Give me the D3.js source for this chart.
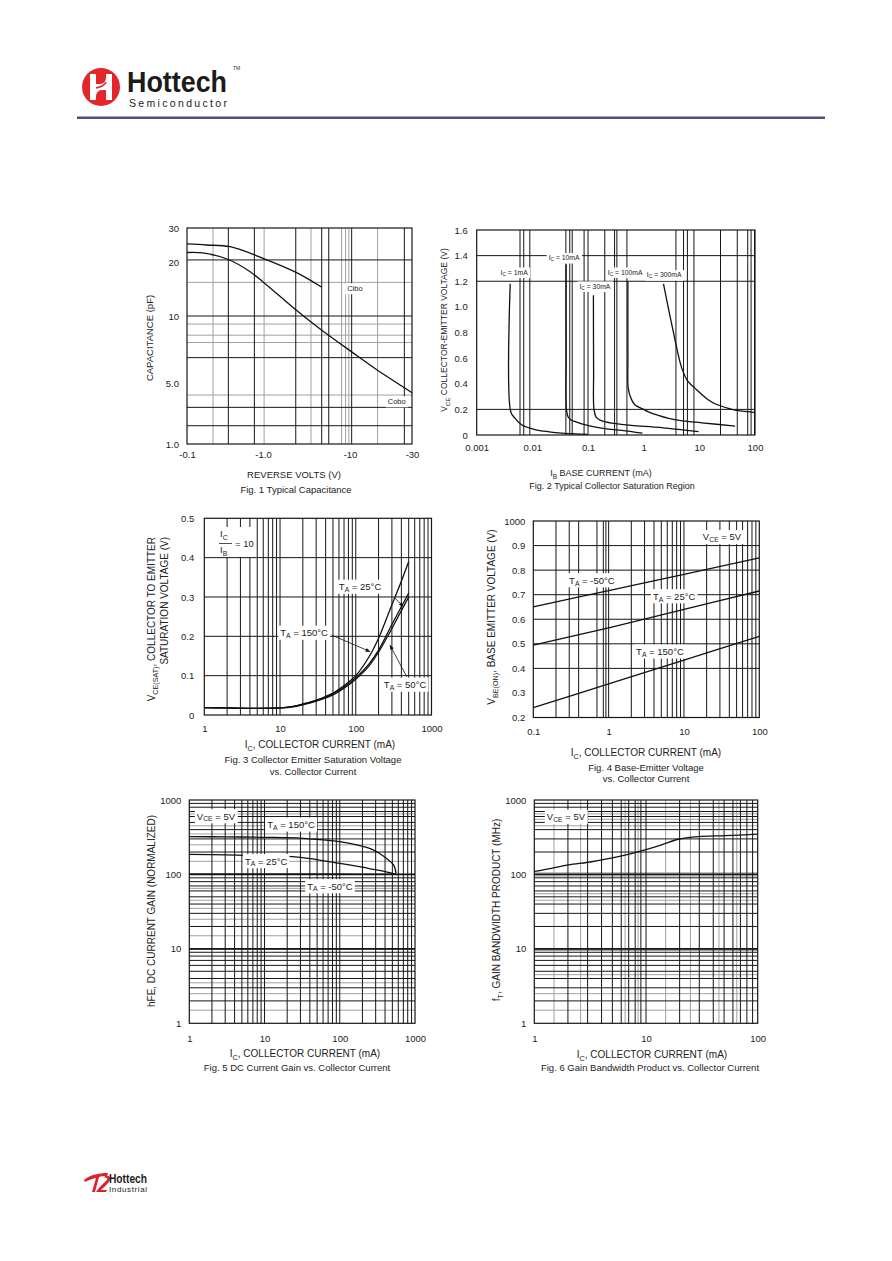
<!DOCTYPE html>
<html>
<head>
<meta charset="utf-8">
<script src="https://cdn.jsdelivr.net/npm/d3@7"></script>
<style>
  body { margin: 0; background: #fff; }
  svg text { font-family: "Liberation Sans", Arial, sans-serif; fill: #222; }
</style>
</head>
<body>
<script>
// ---------- data ----------

// Fig 1 typical capacitance
var f1VoltTicks = [0.1, 1, 10, 30];
var f1VoltLabels = ["-0.1", "-1.0", "-10", "-30"];
var f1CapTicks = [1, 5, 10, 20, 30];
var f1CapLabels = ["1.0", "5.0", "10", "20", "30"];
var ciboV = [0.1, 0.18, 0.37, 1.0, 2.4, 4.7];
var ciboC = [24.8, 24.5, 24.0, 20.9, 17.5, 14.5];
var coboV = [0.1, 0.16, 0.35, 0.67, 1.05, 2.4, 4.7, 10.3, 16.3, 30];
var coboC = [22.4, 22.3, 20.6, 17.7, 15.2, 10.8, 8.65, 6.9, 5.7, 3.87];

// Fig 2 collector saturation region (IB mA, VCE V)
var f2IbTicks = [0.001, 0.01, 0.1, 1, 10, 100];
var f2IbLabels = ["0.001", "0.01", "0.1", "1", "10", "100"];
var f2VceTicks = [0, 0.2, 0.4, 0.6, 0.8, 1.0, 1.2, 1.4, 1.6];
var f2VceLabels = ["0", "0.2", "0.4", "0.6", "0.8", "1.0", "1.2", "1.4", "1.6"];
var ic1Ib  = [0.004, 0.0041, 0.0049, 0.0065, 0.0112, 0.02, 0.034, 0.06, 0.098];
var ic1Vce = [1.18, 0.18, 0.13, 0.078, 0.042, 0.025, 0.015, 0.009, 0.005];
var ic10Ib  = [0.0404, 0.0405, 0.041, 0.044, 0.05, 0.059, 0.08, 0.117, 0.2, 0.405, 0.95];
var ic10Vce = [1.33, 0.6, 0.2, 0.14, 0.115, 0.104, 0.085, 0.068, 0.05, 0.036, 0.014];
var ic30Ib  = [0.125, 0.126, 0.128, 0.14, 0.177, 0.3, 0.6, 1.5, 2.8, 5, 9.7];
var ic30Vce = [1.09, 0.5, 0.2, 0.14, 0.11, 0.09, 0.075, 0.062, 0.052, 0.04, 0.026];
var ic100Ib  = [0.52, 0.521, 0.53, 0.6, 0.7, 1.0, 1.22, 2.8, 5, 11.1, 44];
var ic100Vce = [1.2, 0.6, 0.36, 0.28, 0.234, 0.2, 0.18, 0.13, 0.11, 0.095, 0.07];
var ic300Ib  = [2.27, 3.21, 4.86, 6.2, 8.4, 14.6, 20, 33.5, 50, 76.7, 100];
var ic300Vce = [1.18, 0.86, 0.52, 0.42, 0.364, 0.273, 0.24, 0.208, 0.19, 0.182, 0.174];

// Fig 3 VCE(sat) vs IC
var f3IcTicks = [1, 10, 100, 1000];
var f3IcLabels = ["1", "10", "100", "1000"];
var f3VTicks = [0, 0.1, 0.2, 0.3, 0.4, 0.5];
var f3VLabels = ["0", "0.1", "0.2", "0.3", "0.4", "0.5"];
var f3Ic = [1, 2, 5, 10, 15, 20, 30, 50, 70, 100, 150, 200, 300, 400, 500];
var f3VceA = [0.019, 0.018, 0.017, 0.018, 0.022, 0.028, 0.038, 0.056, 0.075, 0.1, 0.148, 0.195, 0.28, 0.34, 0.39];
var f3VceB = [0.019, 0.018, 0.017, 0.018, 0.022, 0.027, 0.036, 0.053, 0.071, 0.095, 0.13, 0.165, 0.23, 0.275, 0.31];
var f3VceC = [0.019, 0.018, 0.017, 0.018, 0.021, 0.026, 0.035, 0.051, 0.068, 0.091, 0.125, 0.16, 0.22, 0.265, 0.30];

// Fig 4 VBE(on) vs IC
var f4IcTicks = [0.1, 1, 10, 100];
var f4IcLabels = ["0.1", "1", "10", "100"];
var f4VTicks = [0.2, 0.3, 0.4, 0.5, 0.6, 0.7, 0.8, 0.9, 1.0];
var f4VLabels = ["0.2", "0.3", "0.4", "0.5", "0.6", "0.7", "0.8", "0.9", "1000"];
var f4Ic = [0.1, 1, 10, 100];
var vbeM50 = [0.65, 0.717, 0.783, 0.85];
var vbe25 = [0.495, 0.565, 0.64, 0.715];
var vbe150 = [0.24, 0.337, 0.434, 0.53];

// Fig 5 DC current gain
var f5IcTicks = [1, 10, 100, 1000];
var f5IcLabels = ["1", "10", "100", "1000"];
var f5HTicks = [1, 10, 100, 1000];
var f5HLabels = ["1", "10", "100", "1000"];
var hfe150Ic = [1, 3, 10, 20, 33, 60, 100, 180, 278, 400, 519, 560];
var hfe150 = [322, 320, 315, 312, 306, 292, 276, 245, 214, 170, 134, 104];
var hfe25Ic = [1, 3, 10, 30, 100, 200, 278, 400, 560];
var hfe25 = [186, 183, 179, 170, 141, 125, 117, 109, 101];
var hfeM50Ic = [1, 10, 100, 560];
var hfeM50 = [101, 101, 100.5, 100];

// Fig 6 gain bandwidth product
var f6IcTicks = [1, 10, 100];
var f6IcLabels = ["1", "10", "100"];
var f6FTicks = [1, 10, 100, 1000];
var f6FLabels = ["1", "10", "100", "1000"];
var ftIc = [1, 1.43, 2.02, 3.26, 5.65, 9.8, 13.8, 19.4, 29.4, 51, 100];
var ftMHz = [110, 121, 134, 148, 173, 214, 250, 297, 322, 332, 347];

// ---------- page ----------
var svg = d3.select("body").append("svg")
  .attr("width", 892)
  .attr("height", 1261);

var BLACK = "#161616", GRAY = "#a0a0a0";

// text with "_x" parts as subscripts
function rich(t, parts, size) {
  var shift = 0;
  parts.forEach(function(p) {
    var sub = p.charAt(0) === "_";
    var s = t.append("tspan").text(sub ? p.slice(1) : p);
    if (sub) {
      s.attr("font-size", size * 0.72).attr("dy", size * 0.3);
      shift = size * 0.3;
    } else if (shift) {
      s.attr("dy", -shift);
      shift = 0;
    }
  });
  return t;
}

function boxLabel(g, px, py, parts, size) {
  var t = g.append("text").attr("x", px).attr("y", py)
    .attr("font-size", size).attr("text-anchor", "middle").attr("dominant-baseline", "middle");
  rich(t, parts, size);
  var b = t.node().getBBox();
  g.insert("rect", function() { return t.node(); })
    .attr("x", b.x - 2).attr("y", b.y - 1).attr("width", b.width + 4).attr("height", b.height + 2)
    .attr("fill", "#fff");
  return t;
}

function panel(o) {
  var g = svg.append("g");
  var x = o.x, y = o.y;
  var xr = x.range(), yr = y.range();
  var left = xr[0], right = xr[xr.length - 1], bottom = yr[0], top = yr[yr.length - 1];

  function vl(vals, color, w) {
    g.selectAll(null).data(vals).enter().append("line")
      .attr("x1", d => x(d)).attr("x2", d => x(d))
      .attr("y1", top).attr("y2", bottom)
      .attr("stroke", color).attr("stroke-width", w || 1);
  }
  function hl(vals, color, w) {
    g.selectAll(null).data(vals).enter().append("line")
      .attr("y1", d => y(d)).attr("y2", d => y(d))
      .attr("x1", left).attr("x2", right)
      .attr("stroke", color).attr("stroke-width", w || 1);
  }
  vl(o.gxGray || [], GRAY);
  hl(o.gyGray || [], GRAY);
  vl(o.gx || [], BLACK);
  hl(o.gy || [], BLACK);
  vl(o.gxBold || [], BLACK, 1.8);
  hl(o.gyBold || [], BLACK, 1.8);

  g.append("rect").attr("x", left).attr("y", top)
    .attr("width", right - left).attr("height", bottom - top)
    .attr("fill", "none").attr("stroke", BLACK).attr("stroke-width", 1.2);

  // curves
  var line = d3.line().x(d => x(d[0])).y(d => y(d[1])).curve(d3.curveCatmullRom.alpha(0.5));
  o.series.forEach(function(s) {
    g.append("path").attr("d", line(d3.zip(s[0], s[1])))
      .attr("fill", "none").attr("stroke", "#111").attr("stroke-width", 1.3);
  });

  // tick labels through axes
  var ax = g.append("g").attr("transform", "translate(0," + bottom + ")")
    .call(d3.axisBottom(x).tickValues(o.xTicks).tickFormat((d, i) => o.xLabels[i])
      .tickSize(0).tickPadding(o.xPad || 8));
  var ay = g.append("g").attr("transform", "translate(" + left + ",0)")
    .call(d3.axisLeft(y).tickValues(o.yTicks).tickFormat((d, i) => o.yLabels[i])
      .tickSize(0).tickPadding(o.yPad || 7));
  [ax, ay].forEach(function(a) {
    a.select(".domain").remove();
    a.selectAll("text").attr("font-size", 9.5).attr("font-family", null).attr("fill", "#2a2a2a");
  });
  return g;
}

// ---------- header ----------
var head = svg.append("g");
head.append("circle").attr("cx", 101).attr("cy", 87).attr("r", 19).attr("fill", "#e2262c");
head.append("path")
  .attr("d", "M90,74 h6 v10 h4 c4,0 6,-3 6,-7 v-3 h6 v26 h-6 v-10 h-4 c-4,0 -6,3 -6,7 v3 h-6 z")
  .attr("fill", "#fff");
head.append("path")
  .attr("d", "M96,88 c5,-1 9,-3 10,-6")
  .attr("stroke", "#e2262c").attr("stroke-width", 1.6).attr("fill", "none");
head.append("text").attr("x", 127).attr("y", 91.5)
  .attr("font-size", 29).attr("font-weight", "bold").attr("textLength", 100)
  .attr("lengthAdjust", "spacingAndGlyphs").style("fill", "#1b1b1b").text("Hottech");
head.append("text").attr("x", 233).attr("y", 70)
  .attr("font-size", 5).style("fill", "#333").text("TM");
head.append("text").attr("x", 129).attr("y", 107)
  .attr("font-size", 10.5).attr("textLength", 98)
  .attr("lengthAdjust", "spacing").style("fill", "#222").text("Semiconductor");
head.append("rect").attr("x", 77).attr("y", 116.5).attr("width", 748).attr("height", 2.5)
  .attr("fill", "#5b4b7d");

// ---------- Fig 1 ----------
var x1 = d3.scaleLog().domain([0.1, 1, 10, 30]).range([187, 263, 350, 412]);
var y1 = d3.scaleLog().domain([1, 5, 10, 20, 30]).range([444, 383, 316, 262, 228]);
var g1 = panel({
  x: x1, y: y1,
  gx: [0.35, 0.77, 2.38, 4.73, 5.7, 10.3, 26.2],
  gxGray: [0.22, 1.03, 3.56, 8.0, 8.9, 9.7, 16.3],
  gy: [20.5, 10, 6.5, 2.63, 1.62],
  gyGray: [15.4, 9.2, 8.2, 7.6, 3.64],
  series: [[ciboV, ciboC], [coboV, coboC]],
  xTicks: f1VoltTicks, xLabels: f1VoltLabels,
  yTicks: f1CapTicks, yLabels: f1CapLabels, xPad: 7, yPad: 8
});
boxLabel(g1, x1(10.9), y1(14.1), ["Cibo"], 7.5);
boxLabel(g1, x1(22.9), y1(3.0), ["Cobo"], 7.5);
g1.append("text").attr("transform", "translate(153,338) rotate(-90)")
  .attr("text-anchor", "middle").attr("font-size", 9.5).text("CAPACITANCE (pF)");
g1.append("text").attr("x", 294).attr("y", 478).attr("text-anchor", "middle")
  .attr("font-size", 9.5).text("REVERSE VOLTS (V)");
g1.append("text").attr("x", 296).attr("y", 493).attr("text-anchor", "middle")
  .attr("font-size", 9.5).text("Fig. 1  Typical Capacitance");

// ---------- Fig 2 ----------
var x2 = d3.scaleLog().domain([0.001, 100]).range([476.7, 755]);
var y2 = d3.scaleLinear().domain([0, 1.6]).range([435, 230]);
var g2 = panel({
  x: x2, y: y2,
  gx: [0.006, 0.007, 0.009, 0.04, 0.047, 0.052, 0.085, 0.1, 0.2, 0.3, 0.33, 0.5,
       3.8, 5.2, 6.1, 8, 24, 48, 74, 85, 98],
  gy: [0.2, 1.2, 1.4],
  series: [[ic1Ib, ic1Vce], [ic10Ib, ic10Vce], [ic30Ib, ic30Vce], [ic100Ib, ic100Vce], [ic300Ib, ic300Vce]],
  xTicks: f2IbTicks, xLabels: f2IbLabels,
  yTicks: f2VceTicks, yLabels: f2VceLabels, xPad: 9, yPad: 9
});
boxLabel(g2, x2(0.0047), y2(1.267), ["I", "_C", " = 1mA"], 6.8);
boxLabel(g2, x2(0.0372), y2(1.38), ["I", "_C", " = 10mA"], 6.8);
boxLabel(g2, x2(0.133), y2(1.158), ["I", "_C", " = 30mA"], 6.8);
boxLabel(g2, x2(0.465), y2(1.267), ["I", "_C", " = 100mA"], 6.8);
boxLabel(g2, x2(2.34), y2(1.246), ["I", "_C", " = 300mA"], 6.8);
rich(g2.append("text").attr("transform", "translate(447,330) rotate(-90)")
  .attr("text-anchor", "middle").attr("font-size", 8.5),
  ["V", "_CE", " COLLECTOR-EMITTER VOLTAGE (V)"], 8.5);
rich(g2.append("text").attr("x", 601).attr("y", 476).attr("text-anchor", "middle")
  .attr("font-size", 9), ["I", "_B", " BASE CURRENT (mA)"], 9);
g2.append("text").attr("x", 612).attr("y", 489).attr("text-anchor", "middle")
  .attr("font-size", 9).text("Fig. 2 Typical Collector Saturation Region");

// ---------- Fig 3 ----------
var x3 = d3.scaleLog().domain([1, 1000]).range([204.3, 431.5]);
var y3 = d3.scaleLinear().domain([0, 0.5]).range([715, 518.3]);
var g3 = panel({
  x: x3, y: y3,
  gx: x3.ticks().filter(d => d > 1 && d < 1000),
  gy: [0.1, 0.2, 0.3, 0.4],
  series: [[f3Ic, f3VceA], [f3Ic, f3VceB], [f3Ic, f3VceC]],
  xTicks: f3IcTicks, xLabels: f3IcLabels,
  yTicks: f3VTicks, yLabels: f3VLabels, xPad: 10, yPad: 10
});
boxLabel(g3, x3(114), y3(0.325), ["T", "_A", " = 25°C"], 9.5);
boxLabel(g3, x3(20.8), y3(0.208), ["T", "_A", " = 150°C"], 9.5);
boxLabel(g3, x3(448), y3(0.076), ["T", "_A", " = 50°C"], 9.5);
var arrows3 = [[330, 0.297, 426, 0.275], [48.3, 0.203, 155, 0.161], [472, 0.097, 282, 0.178]];
arrows3.forEach(function(a) {
  var x0 = x3(a[0]), y0 = y3(a[1]), xe = x3(a[2]), ye = y3(a[3]);
  var ang = Math.atan2(ye - y0, xe - x0);
  g3.append("line").attr("x1", x0).attr("y1", y0).attr("x2", xe).attr("y2", ye)
    .attr("stroke", "#111").attr("stroke-width", 0.8);
  var L = 5, s = 0.4;
  g3.append("path")
    .attr("d", "M" + xe + "," + ye +
      "L" + (xe - L * Math.cos(ang - s)) + "," + (ye - L * Math.sin(ang - s)) +
      "L" + (xe - L * Math.cos(ang + s)) + "," + (ye - L * Math.sin(ang + s)) + "Z")
    .attr("fill", "#111");
});
// IC / IB = 10
var fr = g3.append("g");
fr.append("rect").attr("x", 216).attr("y", 527).attr("width", 36).attr("height", 30).attr("fill", "#fff");
rich(fr.append("text").attr("x", 220).attr("y", 537).attr("font-size", 9.5), ["I", "_C"], 9.5);
rich(fr.append("text").attr("x", 220).attr("y", 553).attr("font-size", 9.5), ["I", "_B"], 9.5);
fr.append("line").attr("x1", 219).attr("x2", 232).attr("y1", 543.5).attr("y2", 543.5)
  .attr("stroke", "#222").attr("stroke-width", 0.8);
fr.append("text").attr("x", 235).attr("y", 547).attr("font-size", 9.5).text("= 10");
rich(g3.append("text").attr("transform", "translate(155,537) rotate(-90)")
  .attr("text-anchor", "end").attr("font-size", 10),
  ["V", "_CE(SAT)", ", COLLECTOR TO EMITTER"], 10);
g3.append("text").attr("transform", "translate(168,537) rotate(-90)")
  .attr("text-anchor", "end").attr("font-size", 10).text("SATURATION VOLTAGE (V)");
rich(g3.append("text").attr("x", 320).attr("y", 748).attr("text-anchor", "middle")
  .attr("font-size", 10), ["I", "_C", ", COLLECTOR CURRENT (mA)"], 10);
g3.append("text").attr("x", 313).attr("y", 763).attr("text-anchor", "middle")
  .attr("font-size", 9.5).text("Fig. 3  Collector Emitter Saturation Voltage");
g3.append("text").attr("x", 313).attr("y", 775).attr("text-anchor", "middle")
  .attr("font-size", 9.5).text("vs. Collector Current");

// ---------- Fig 4 ----------
var x4 = d3.scaleLog().domain([0.1, 100]).range([533.3, 759.3]);
var y4 = d3.scaleLinear().domain([0.2, 1.0]).range([717.5, 521]);
var g4 = panel({
  x: x4, y: y4,
  gx: [0.2, 0.3, 0.4, 0.7, 0.85, 0.92, 1].concat(x4.ticks().filter(d => d > 1 && d < 100)),
  gy: [0.4, 0.5, 0.6, 0.7, 0.8, 0.9],
  series: [[f4Ic, vbeM50], [f4Ic, vbe25], [f4Ic, vbe150]],
  xTicks: f4IcTicks, xLabels: f4IcLabels,
  yTicks: f4VTicks, yLabels: f4VLabels, xPad: 11, yPad: 8
});
boxLabel(g4, x4(32), y4(0.933), ["V", "_CE", " = 5V"], 9.5);
boxLabel(g4, x4(0.6), y4(0.757), ["T", "_A", " = -50°C"], 9.5);
boxLabel(g4, x4(7.4), y4(0.692), ["T", "_A", " = 25°C"], 9.5);
boxLabel(g4, x4(4.8), y4(0.467), ["T", "_A", " = 150°C"], 9.5);
rich(g4.append("text").attr("transform", "translate(495,617) rotate(-90)")
  .attr("text-anchor", "middle").attr("font-size", 10),
  ["V", "_BE(ON)", ", BASE EMITTER VOLTAGE (V)"], 10);
rich(g4.append("text").attr("x", 646).attr("y", 756).attr("text-anchor", "middle")
  .attr("font-size", 10), ["I", "_C", ", COLLECTOR CURRENT (mA)"], 10);
g4.append("text").attr("x", 646).attr("y", 771).attr("text-anchor", "middle")
  .attr("font-size", 9.5).text("Fig. 4  Base-Emitter Voltage");
g4.append("text").attr("x", 646).attr("y", 782).attr("text-anchor", "middle")
  .attr("font-size", 9.5).text("vs. Collector Current");

// ---------- Fig 5 ----------
var x5 = d3.scaleLog().domain([1, 1000]).range([189.3, 415]);
var y5 = d3.scaleLog().domain([1, 1000]).range([1023.3, 800]);
var g5 = panel({
  x: x5, y: y5,
  gx: x5.ticks().filter(d => d > 1 && d < 1000),
  gy: y5.ticks().filter(d => d > 1 && d < 1000),
  gyGray: [1.5, 2.5, 3.5, 15, 25, 35, 45, 65, 150, 250, 350, 450, 650],
  gyBold: [10, 100],
  series: [[hfe150Ic, hfe150], [hfe25Ic, hfe25], [hfeM50Ic, hfeM50]],
  xTicks: f5IcTicks, xLabels: f5IcLabels,
  yTicks: f5HTicks, yLabels: f5HLabels, xPad: 12, yPad: 8
});
boxLabel(g5, x5(2.26), y5(598), ["V", "_CE", " = 5V"], 9.5);
boxLabel(g5, x5(22.5), y5(462), ["T", "_A", " = 150°C"], 9.5);
boxLabel(g5, x5(10.5), y5(149), ["T", "_A", " = 25°C"], 9.5);
boxLabel(g5, x5(74), y5(68.6), ["T", "_A", " = -50°C"], 9.5);
g5.append("text").attr("transform", "translate(155,911) rotate(-90)")
  .attr("text-anchor", "middle").attr("font-size", 10).text("hFE, DC CURRENT GAIN (NORMALIZED)");
rich(g5.append("text").attr("x", 305).attr("y", 1057).attr("text-anchor", "middle")
  .attr("font-size", 10), ["I", "_C", ", COLLECTOR CURRENT (mA)"], 10);
g5.append("text").attr("x", 297).attr("y", 1071).attr("text-anchor", "middle")
  .attr("font-size", 9.5).text("Fig. 5  DC Current Gain vs. Collector Current");

// ---------- Fig 6 ----------
var x6 = d3.scaleLog().domain([1, 100]).range([534.3, 757.7]);
var y6 = d3.scaleLog().domain([1, 1000]).range([1023.3, 800]);
var g6 = panel({
  x: x6, y: y6,
  gx: x6.ticks().filter(d => d > 1 && d < 100),
  gxGray: [1.5, 2.6, 6.5, 8.5, 15, 25, 45, 65],
  gy: y6.ticks().filter(d => d > 1 && d < 1000),
  gyGray: [1.5, 2.5, 4.5, 9.5, 45, 55, 95, 105, 450, 550, 650],
  gyBold: [10, 100],
  series: [[ftIc, ftMHz]],
  xTicks: f6IcTicks, xLabels: f6IcLabels,
  yTicks: f6FTicks, yLabels: f6FLabels, xPad: 12, yPad: 8
});
boxLabel(g6, x6(1.92), y6(587), ["V", "_CE", " = 5V"], 9.5);
rich(g6.append("text").attr("transform", "translate(500,910) rotate(-90)")
  .attr("text-anchor", "middle").attr("font-size", 10),
  ["f", "_T", ", GAIN BANDWIDTH PRODUCT (MHz)"], 10);
rich(g6.append("text").attr("x", 652).attr("y", 1058).attr("text-anchor", "middle")
  .attr("font-size", 10), ["I", "_C", ", COLLECTOR CURRENT (mA)"], 10);
g6.append("text").attr("x", 650).attr("y", 1071).attr("text-anchor", "middle")
  .attr("font-size", 9.5).text("Fig. 6  Gain Bandwidth Product vs. Collector Current");

// ---------- footer ----------
var foot = svg.append("g");
foot.append("path")
  .attr("d", "M84,1180 c6,-5 14,-7 24,-7 l-1,3 c-3,0 -6,0 -8,1 l-4,15 h-3 l4,-14 c-4,1 -8,2 -11,4 z")
  .attr("fill", "#d9232a");
foot.append("path")
  .attr("d", "M96,1192 c3,-5 8,-9 11,-12 c1,-2 -1,-3 -3,-2 l1,-2 c4,-1 6,1 5,4 c-2,4 -6,7 -9,10 h6 l-1,2 z")
  .attr("fill", "#d9232a");
foot.append("text").attr("x", 109).attr("y", 1183).attr("font-size", 12).attr("font-weight", "bold")
  .attr("textLength", 38).attr("lengthAdjust", "spacingAndGlyphs").style("fill", "#1b1b1b").text("Hottech");
foot.append("text").attr("x", 109).attr("y", 1191.5).attr("font-size", 8)
  .attr("textLength", 38).attr("lengthAdjust", "spacing").style("fill", "#222").text("Industrial");
</script>
</body>
</html>
